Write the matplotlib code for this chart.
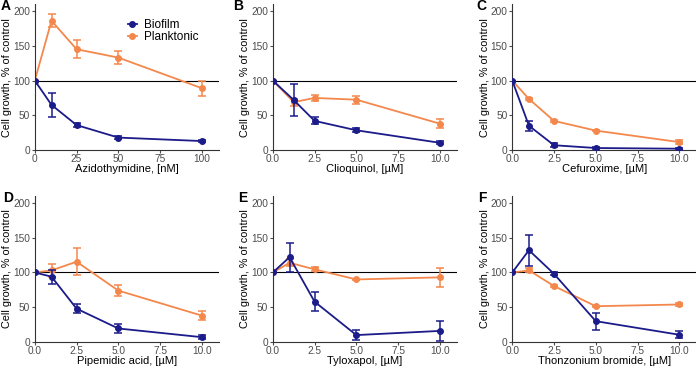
import numpy as np
import matplotlib.pyplot as plt
from matplotlib.lines import Line2D

plt.rcParams['font.family'] = ['Liberation Sans', 'DejaVu Sans']

# drug names and concentrations
drugs = ["Azidothymidine, [nM]", "Clioquinol, [\u00b5M]", "Cefuroxime, [\u00b5M]",
         "Pipemidic acid, [\u00b5M]", "Tyloxapol, [\u00b5M]", "Thonzonium bromide, [\u00b5M]"]
letters = ["A", "B", "C", "D", "E", "F"]

conc_a = [0, 10, 25, 50, 100]
conc_b = [0, 1.25, 2.5, 5, 10]
conc_um = [0, 1, 2.5, 5, 10]
concs = [conc_a, conc_b, conc_um, conc_um, conc_um, conc_um]

# biofilm mean / sd
bio_mean = [
    [100, 65, 36, 18, 13],
    [100, 72, 42, 28.5, 10.5],
    [100, 35, 7, 3, 2],
    [100, 94, 48, 19.5, 7],
    [100, 122, 58, 10, 16],
    [100, 132, 98, 30, 10.5],
]
bio_sd = [
    [0, 17, 3, 2, 2],
    [0, 23, 5, 3, 2],
    [0, 7, 3, 1, 1],
    [0, 10, 6, 7, 3],
    [0, 21, 14, 7, 14],
    [0, 22, 2, 12, 5],
]

# planktonic mean / sd
plank_mean = [
    [100, 186, 145, 133, 89],
    [100, 69, 75, 72.5, 38],
    [100, 73.5, 42, 28, 11.5],
    [100, 103, 115.5, 74, 38],
    [100, 114, 104.5, 90, 93],
    [100, 103, 80.5, 51.5, 54],
]
plank_sd = [
    [0, 9, 13, 9, 11],
    [0, 5, 4, 6, 6],
    [0, 2, 1, 1, 3],
    [0, 9, 19, 8, 6],
    [0, 5, 3, 1, 14],
    [0, 3, 2, 1, 2],
]

xmax = [110, 11, 11, 11, 11, 11]
xticks_a = [0, 25, 50, 75, 100]
xticks_um = [0.0, 2.5, 5.0, 7.5, 10.0]

blue = "#1b1b8a"
orange = "#f4884c"

fig = plt.figure(figsize=(6.96, 3.67), dpi=100)

lefts = [0.050, 0.392, 0.736]
bottoms = [0.591, 0.068]
w, h = 0.264, 0.398
letter_x = [[0.001, 0.335, 0.684], [0.004, 0.342, 0.687]]
letter_y = [0.983, 0.460]

for i in range(6):
    r, c = divmod(i, 3)
    ax = fig.add_axes([lefts[c], bottoms[r], w, h])
    ax.axhline(100, color="black", lw=0.8, zorder=1)
    ax.errorbar(concs[i], bio_mean[i], yerr=bio_sd[i], color=blue, lw=1.3,
                marker="o", ms=4, capsize=3, capthick=1.1, elinewidth=1.1, zorder=3)
    ax.errorbar(concs[i], plank_mean[i], yerr=plank_sd[i], color=orange, lw=1.3,
                marker="o", ms=4, capsize=3, capthick=1.1, elinewidth=1.1, zorder=2)
    ax.set_xlim(0, xmax[i])
    ax.set_ylim(0, 210)
    ax.set_yticks([0, 50, 100, 150, 200])
    if i == 0:
        ax.set_xticks(xticks_a)
    else:
        ax.set_xticks(xticks_um)
        ax.set_xticklabels(["%.1f" % t for t in xticks_um])
    ax.set_xlabel(drugs[i], fontsize=8, labelpad=0)
    ax.set_ylabel("Cell growth, % of control", fontsize=7.8, labelpad=0.5)
    for s in ["top", "right"]:
        ax.spines[s].set_visible(False)
    for s in ["left", "bottom"]:
        ax.spines[s].set_color("#333333")
        ax.spines[s].set_linewidth(0.8)
    ax.tick_params(labelsize=7.3, colors="#4d4d4d", length=2.5, width=0.8, pad=1)
    ax.tick_params(axis="x", pad=0.3)
    ax.set_facecolor("none")

    fig.text(letter_x[r][c], letter_y[r], letters[i], fontsize=10, fontweight="bold",
             ha="left", va="center")

    if i == 0:
        handles = [Line2D([], [], color=blue, marker="o", ms=4, lw=1.3),
                   Line2D([], [], color=orange, marker="o", ms=4, lw=1.3)]
        ax.legend(handles, ["Biofilm", "Planktonic"], loc="upper left",
                  bbox_to_anchor=(0.46, 0.955), frameon=False, fontsize=8.5,
                  handlelength=0.8, handletextpad=0.6, labelspacing=0.0,
                  borderpad=0.2)

fig.savefig("out.png", dpi=100)
